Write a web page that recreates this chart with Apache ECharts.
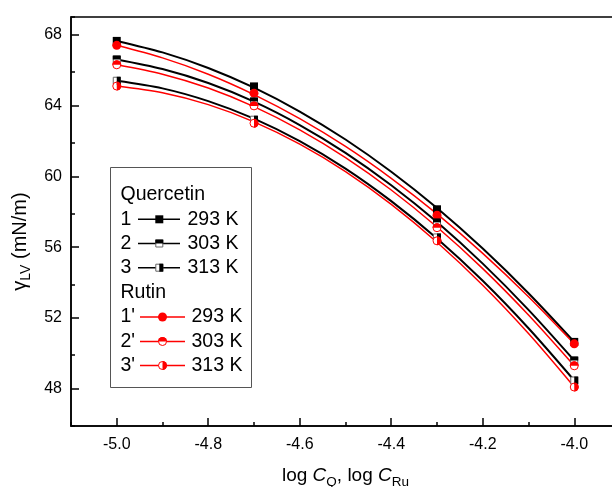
<!DOCTYPE html>
<html><head><meta charset="utf-8">
<script src="https://cdn.jsdelivr.net/npm/echarts@6/dist/echarts.min.js"></script>
<style>html,body{margin:0;padding:0;background:#fff}#c{width:612px;height:487px}</style>
</head><body><div id="c"></div>
<script>
// ---- measured points ----
const logC = [-5.0, -4.7, -4.3, -4.0];
const q293 = [67.65, 65.08, 58.14, 50.65];
const q303 = [66.6, 64.23, 57.4, 49.6];
const q313 = [65.4, 63.2, 56.55, 48.47];
const r293 = [67.4, 64.7, 57.8, 50.54];
const r303 = [66.3, 63.98, 57.1, 49.3];
const r313 = [65.1, 63.0, 56.36, 48.1];
// ---- fitted curves (at these x) ----
const fitX = [-5.0, -4.9, -4.8, -4.7, -4.6, -4.5, -4.4, -4.3, -4.2, -4.1, -4.0];
const fitQ293 = [67.65, 67.00, 66.12, 65.01, 63.66, 62.08, 60.26, 58.21, 55.92, 53.40, 50.65];
const fitQ303 = [66.6, 66.06, 65.27, 64.22, 62.90, 61.33, 59.50, 57.42, 55.07, 52.46, 49.6];
const fitQ313 = [65.4, 64.97, 64.25, 63.26, 61.99, 60.44, 58.60, 56.49, 54.10, 51.42, 48.47];
const fitR293 = [67.4, 66.69, 65.77, 64.62, 63.26, 61.69, 59.89, 57.88, 55.65, 53.20, 50.54];
const fitR303 = [66.3, 65.77, 64.99, 63.94, 62.63, 61.06, 59.23, 57.14, 54.79, 52.17, 49.3];
const fitR313 = [65.1, 64.72, 64.05, 63.08, 61.82, 60.27, 58.42, 56.28, 53.85, 51.12, 48.1];
const xMajorTicks = [-5.0, -4.8, -4.6, -4.4, -4.2, -4.0];
const yMajorTicks = [48, 52, 56, 60, 64, 68];
const groupNames = ['Quercetin', 'Rutin'];
const qNums = ['1', '2', '3'];
const rNums = ["1'", "2'", "3'"];
const temps = ['293 K', '303 K', '313 K'];

const FONT = 'Liberation Sans, Arial, sans-serif';
const BLACK = '#000000', RED = '#ff0000';
const pts = (xs, ys) => xs.map((x, i) => [x, ys[i]]);

const SQ = 8, CI = 9;
const topSemi = 'path://M0,10 A10,10 0 0 1 20,10 Z';
const rightSemi = 'path://M0,0 A10,10 0 0 1 0,20 Z';

function markerSeries(ys, color, shape, fill) {
  const out = [];
  const size = shape === 'rect' ? SQ : CI;
  const sym = shape === 'rect' ? 'rect' : 'circle';
  const d = pts(logC, ys);
  if (fill === 'full') {
    out.push({type: 'scatter', data: d, symbol: sym, symbolSize: size, z: 4,
      itemStyle: {color: color, opacity: 1}});
  } else {
    out.push({type: 'scatter', data: d, symbol: sym, symbolSize: size - 1, z: 4,
      itemStyle: {color: '#fff', borderColor: shape === 'rect' ? '#666' : color, borderWidth: 1, opacity: 1}});
    let hs, hsz, off;
    if (fill === 'top') {
      hs = shape === 'rect' ? 'rect' : topSemi;
      hsz = [size, size / 2]; off = [0, -size / 4];
    } else {
      hs = shape === 'rect' ? 'rect' : rightSemi;
      hsz = [size / 2, size]; off = [size / 4, 0];
    }
    out.push({type: 'scatter', data: d, symbol: hs, symbolSize: hsz, symbolOffset: off, z: 5,
      itemStyle: {color: color, opacity: 1}});
  }
  return out;
}
function lineSeries(ys, color, w) {
  return {type: 'line', data: pts(fitX, ys), smooth: 0.3, showSymbol: false, symbol: 'none', z: 2,
    lineStyle: {color: color, width: w}, silent: true};
}

const series = [
  lineSeries(fitQ293, BLACK, 2), lineSeries(fitQ303, BLACK, 2), lineSeries(fitQ313, BLACK, 2),
  lineSeries(fitR293, RED, 1.5), lineSeries(fitR303, RED, 1.5), lineSeries(fitR313, RED, 1.5),
  ...markerSeries(q293, BLACK, 'rect', 'full'),
  ...markerSeries(q303, BLACK, 'rect', 'top'),
  ...markerSeries(q313, BLACK, 'rect', 'right'),
  ...markerSeries(r293, RED, 'circle', 'full'),
  ...markerSeries(r303, RED, 'circle', 'top'),
  ...markerSeries(r313, RED, 'circle', 'right'),
];

// ---- legend (graphic) ----
const graphic = [];
graphic.push({type: 'rect', shape: {x: 110.5, y: 167.5, width: 141, height: 220},
  style: {fill: 'none', stroke: '#555', lineWidth: 1}, z: 10});
const rowY = [195, 219.3, 243.5, 267.7, 293, 317, 341.5, 365.5];
function legendMarker(cx, cy, color, shape, fill) {
  const els = [];
  if (shape === 'rect') {
    const s = SQ;
    if (fill === 'full') {
      els.push({type: 'rect', shape: {x: cx - s / 2, y: cy - s / 2, width: s, height: s}, style: {fill: color}, z: 12});
    } else {
      els.push({type: 'rect', shape: {x: cx - s / 2 + 0.5, y: cy - s / 2 + 0.5, width: s - 1, height: s - 1}, style: {fill: '#fff', stroke: '#666', lineWidth: 1}, z: 12});
      if (fill === 'top') els.push({type: 'rect', shape: {x: cx - s / 2, y: cy - s / 2, width: s, height: s / 2}, style: {fill: color}, z: 13});
      else els.push({type: 'rect', shape: {x: cx, y: cy - s / 2, width: s / 2, height: s}, style: {fill: color}, z: 13});
    }
  } else {
    const r = CI / 2;
    if (fill === 'full') {
      els.push({type: 'circle', shape: {cx: cx, cy: cy, r: r}, style: {fill: color}, z: 12});
    } else {
      els.push({type: 'circle', shape: {cx: cx, cy: cy, r: r - 0.5}, style: {fill: '#fff', stroke: color, lineWidth: 1}, z: 12});
      const a = fill === 'top' ? [Math.PI, 2 * Math.PI] : [-Math.PI / 2, Math.PI / 2];
      els.push({type: 'sector', shape: {cx: cx, cy: cy, r0: 0, r: r, startAngle: a[0], endAngle: a[1], clockwise: true}, style: {fill: color}, z: 13});
    }
  }
  return els;
}
const fills = ['full', 'top', 'right'];
function txt(x, y, s) {
  return {type: 'text', x: x, y: y, z: 12,
    style: {text: s, fill: '#000', font: '19.5px ' + FONT, verticalAlign: 'middle', align: 'left'}};
}
graphic.push(txt(120.5, rowY[0], groupNames[0]));
graphic.push(txt(120.5, rowY[4], groupNames[1]));
for (let i = 0; i < 3; i++) {
  const y = rowY[1 + i];
  graphic.push(txt(120.5, y, qNums[i]));
  graphic.push({type: 'line', shape: {x1: 138, y1: y, x2: 180, y2: y}, style: {stroke: BLACK, lineWidth: 1.5}, z: 11});
  graphic.push(...legendMarker(159.3, y, BLACK, 'rect', fills[i]));
  graphic.push(txt(187.5, y, temps[i]));
}
for (let i = 0; i < 3; i++) {
  const y = rowY[5 + i];
  graphic.push(txt(120.5, y, rNums[i]));
  graphic.push({type: 'line', shape: {x1: 140, y1: y, x2: 185, y2: y}, style: {stroke: RED, lineWidth: 1.5}, z: 11});
  graphic.push(...legendMarker(162.5, y, RED, 'circle', fills[i]));
  graphic.push(txt(191.5, y, temps[i]));
}

const axisTxt = {color: '#000', fontSize: 16, fontFamily: FONT};
const X_MIN = -5.1, X_MAX = -3.9, Y_MIN = 45.9, Y_MAX = 69;
const option = {
  backgroundColor: '#ffffff',
  animation: false,
  grid: {left: 71, top: 17, width: 549, bottom: 61, show: true, borderColor: '#000', borderWidth: 1.5,
    containLabel: false, outerBoundsMode: 'none'},
  xAxis: [{
    type: 'value', min: X_MIN, max: X_MAX, position: 'bottom',
    axisLine: {show: true, lineStyle: {color: '#000', width: 1.5}},
    axisTick: {show: true, inside: true, length: 8, customValues: xMajorTicks, lineStyle: {color: '#000', width: 1.5}},
    axisLabel: {show: true, customValues: xMajorTicks, margin: 11, formatter: v => v.toFixed(1), ...axisTxt},
    splitLine: {show: false},
    name: '{n|log }{i|C}{s|Q}{n|, log }{i|C}{s|Ru}',
    nameLocation: 'middle', nameGap: 37,
    nameTextStyle: {fontSize: 19, fontFamily: FONT, color: '#000',
      rich: {
        n: {fontSize: 19, fontFamily: FONT, color: '#000', lineHeight: 26, verticalAlign: 'middle'},
        i: {fontSize: 19, fontFamily: FONT, color: '#000', fontStyle: 'italic', lineHeight: 26, verticalAlign: 'middle'},
        s: {fontSize: 13.5, fontFamily: FONT, color: '#000', lineHeight: 13, verticalAlign: 'bottom'}
      }}
  }, {
    type: 'value', min: X_MIN, max: X_MAX, interval: 0.2, position: 'bottom',
    axisLine: {show: false},
    axisTick: {show: true, inside: true, length: 4, lineStyle: {color: '#000', width: 1.5}},
    axisLabel: {show: false}, splitLine: {show: false}
  }],
  yAxis: [{
    type: 'value', min: Y_MIN, max: Y_MAX, position: 'left',
    axisLine: {show: true, lineStyle: {color: '#000', width: 1.5}},
    axisTick: {show: true, inside: true, length: 8, customValues: yMajorTicks, lineStyle: {color: '#000', width: 1.5}},
    axisLabel: {show: true, customValues: yMajorTicks, margin: 9, formatter: v => String(v), ...axisTxt},
    splitLine: {show: false},
    name: '{g|γ}{s|LV}{n| (mN/m)}',
    nameLocation: 'middle', nameGap: 36, nameRotate: 90,
    nameTextStyle: {fontSize: 20, fontFamily: FONT, color: '#000', padding: [0, 40, 0, 0],
      rich: {
        g: {fontSize: 20, fontFamily: FONT, color: '#000', lineHeight: 26, verticalAlign: 'middle'},
        n: {fontSize: 20, fontFamily: FONT, color: '#000', lineHeight: 26, verticalAlign: 'middle'},
        s: {fontSize: 14, fontFamily: FONT, color: '#000', lineHeight: 13, verticalAlign: 'bottom'}
      }}
  }, {
    type: 'value', min: Y_MIN, max: Y_MAX, interval: 4, position: 'left',
    axisLine: {show: false},
    axisTick: {show: true, inside: true, length: 4, lineStyle: {color: '#000', width: 1.5}},
    axisLabel: {show: false}, splitLine: {show: false}
  }],
  series: series,
  graphic: graphic
};
const chart = echarts.init(document.getElementById('c'), null, {renderer: 'canvas'});
chart.setOption(option);
</script></body></html>
